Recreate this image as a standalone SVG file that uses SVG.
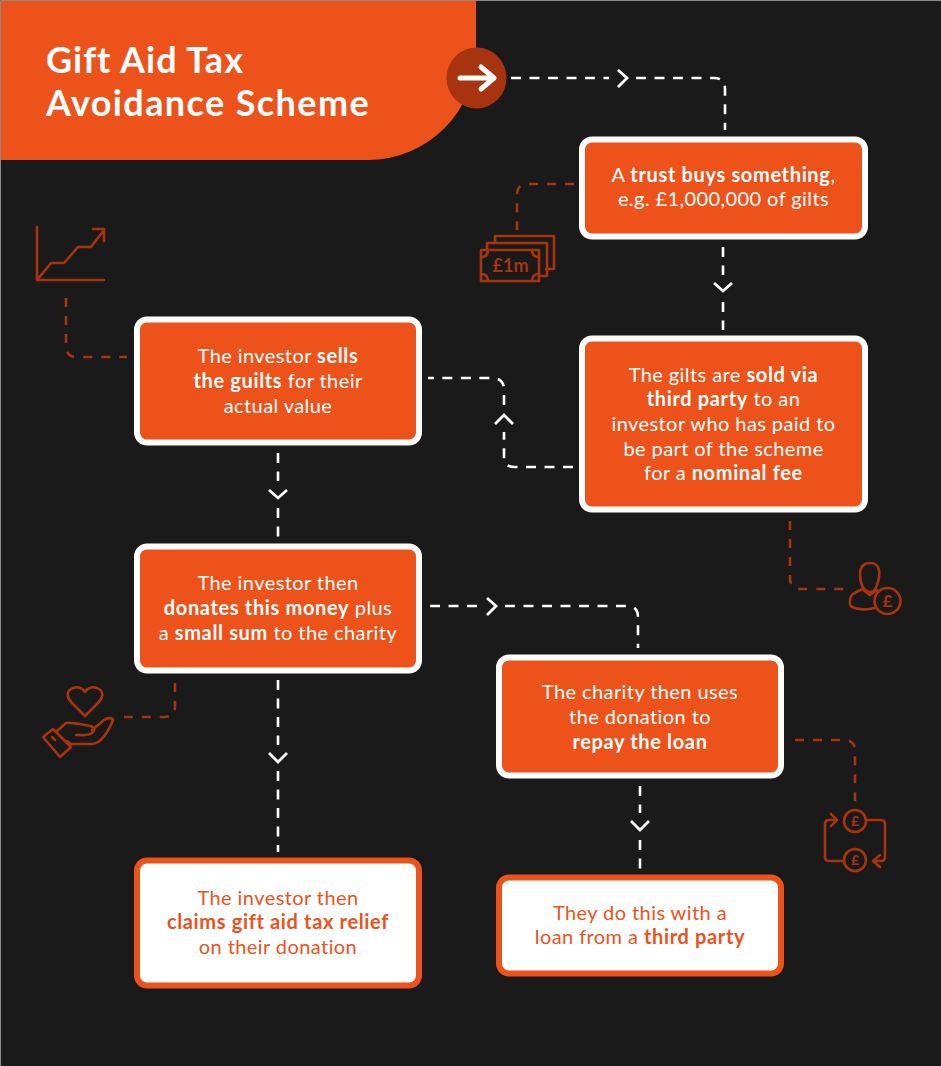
<svg xmlns="http://www.w3.org/2000/svg" width="941" height="1066" viewBox="0 0 941 1066">
<style>
text{font-family:Lato,"Liberation Sans",sans-serif;font-size:20px;text-anchor:middle;fill:#fff;letter-spacing:.42px}
.b{font-weight:700;letter-spacing:.65px}
.t{font-size:36px;font-weight:700;text-anchor:start;letter-spacing:1.4px}
.box{fill:#ed521b;stroke:#fff;stroke-width:6}
.wbox{fill:#fff;stroke:#ed521b;stroke-width:6}
.o{fill:#ed521b}
.w{fill:none;stroke:#fff;stroke-width:2.6;stroke-dasharray:10 8.500}
.r{fill:none;stroke:#a8330f;stroke-width:2.6;stroke-dasharray:9 9}
.c{fill:none;stroke:#fff;stroke-width:2.800}
.i{fill:none;stroke:#a8330f;stroke-width:2.6;stroke-linejoin:round;stroke-linecap:round}
.it{fill:#a8330f;font-weight:700;letter-spacing:0}
</style>
<rect width="941" height="1066" fill="#1a1a1a"/>
<path d="M.5 1066V.5H941" fill="none" stroke="#8a8a8a" stroke-width="1"/>
<g id="header">
<path d="M1 1H476V52A108 108 0 0 1 368 160H1Z" fill="#ed521b"/>
<text class="t" x="46" y="73" style="letter-spacing:1px">Gift Aid Tax</text>
<text class="t" x="46" y="116">Avoidance Scheme</text>
<ellipse cx="476.500" cy="78" rx="30" ry="30.500" fill="#a8330f"/>
<path d="M460 78H494M481 67L494 78L481 89" fill="none" stroke="#fff" stroke-width="5" stroke-linecap="round" stroke-linejoin="round"/>
</g>
<g id="connectors">
<path class="w" d="M511 78H609"/>
<path class="w" d="M636 78H714Q725 78 725 89V130"/>
<path class="c" d="M618 70L627 78L618 87"/>
<path class="w" d="M723 247V275"/>
<path class="w" d="M723 302V330"/>
<path class="c" d="M714 283L723 291L732 283"/>
<path class="w" d="M573 467H514Q504 467 504 457V432"/>
<path class="w" d="M504 405V390Q504 378 492 378H428"/>
<path class="c" d="M495 424L504 415L513 424"/>
<path class="w" d="M278 453V481"/>
<path class="w" d="M278 508V537"/>
<path class="c" d="M269 490L278 498L287 490"/>
<path class="w" d="M430 606H478"/>
<path class="w" d="M505 606H627Q638 606 638 617V648"/>
<path class="c" d="M487 598L496 606L487 615"/>
<path class="w" d="M278 680V745"/>
<path class="w" d="M278 771V852"/>
<path class="c" d="M269 753L278 762L287 753"/>
<path class="w" d="M640 786V813"/>
<path class="w" d="M640 840V869"/>
<path class="c" d="M631 821L640 830L649 821"/>
<path class="r" d="M574 184H528Q517 184 517 195V230"/>
<path class="r" d="M66 298V346Q66 357 77 357H127"/>
<path class="r" d="M790 521V578Q790 589 801 589H845"/>
<path class="r" d="M175 683V706Q175 717 164 717H124"/>
<path class="r" d="M795 740H844Q855 740 855 751V802"/>
</g>
<g id="icon-money">
<path class="i" d="M495 243V236H554V269H546M487 250V243H547V276H539"/>
<rect class="i" x="481" y="250" width="58" height="31"/>
<path class="i" d="M481 257Q488 257 488 250M532 250Q532 257 539 257M481 274Q488 274 488 281M532 281Q532 274 539 274"/>
<text class="it" x="510.500" y="272" style="font-size:18px">£1m</text>
</g>
<g id="icon-chart">
<path class="i" d="M37 227V280H104M37 280L51 263H64L78 247H91L104 230M93 229H104V241"/>
</g>
<g id="icon-person">
<path class="i" d="M870 563C881 563 880 574 878 582C876 590 873 592 870 592C866 592 862 588 861 582C859 574 859 563 870 563ZM862 589L870 595L877 590M862 589L853 594C849 597 849 606 852 607C858 610 868 610 875 608"/>
<circle class="i" cx="887.500" cy="601" r="13"/>
<text class="it" x="887.500" y="607" style="font-size:17px">£</text>
</g>
<g id="icon-hand">
<path class="i" d="M85 716L72 703C67 698 66 692 71 689C76 686 82 687 85 692C88 687 94 686 99 689C104 692 103 698 98 703Z"/>
<path class="i" d="M57 731L66 723C72 722 75 724 80 724L90 726C96 727 95 730 92 733C88 736 81 735 76 735M92 730L104 720C108 717 113 718 113 720C108 733 100 744 92 744H71L67 741"/>
<path class="i" d="M43 737L53 729L71 747L60 757ZM52 737L55 740"/>
</g>
<g id="icon-loop">
<circle class="i" cx="855" cy="821" r="11"/>
<circle class="i" cx="855" cy="860" r="11"/>
<text class="it" x="855" y="826" style="font-size:14px">£</text>
<text class="it" x="855" y="865" style="font-size:14px">£</text>
<path class="i" d="M866 820H881Q885 820 885 824V857Q885 861 881 861H874M880 855L873 861L880 867M844 861H829Q825 861 825 857V824Q825 820 829 820H837M831 814L837 820L831 826"/>
</g>
<g id="node-trust">
<rect class="box" x="582" y="139.500" width="283" height="97" rx="10"/>
<text x="723.500" y="182">A <tspan class="b">trust buys something</tspan>,</text>
<text x="723.500" y="205.500">e.g. £1,000,000 of gilts</text>
</g>
<g id="node-sold">
<rect class="box" x="582" y="338.500" width="283" height="171" rx="10"/>
<text x="723.500" y="381.500">The gilts are <tspan class="b">sold via</tspan></text>
<text x="723.500" y="406"><tspan class="b">third party</tspan> to an</text>
<text x="723.500" y="431">investor who has paid to</text>
<text x="723.500" y="456">be part of the scheme</text>
<text x="723.500" y="480"><tspan>for a </tspan><tspan class="b">nominal fee</tspan></text>
</g>
<g id="node-sells">
<rect class="box" x="137" y="319.500" width="282" height="123" rx="10"/>
<text x="278" y="363">The investor <tspan class="b">sells</tspan></text>
<text x="278" y="388"><tspan class="b">the guilts</tspan> for their</text>
<text x="278" y="413">actual value</text>
</g>
<g id="node-donates">
<rect class="box" x="137" y="546.500" width="282" height="124" rx="10"/>
<text x="278" y="590">The investor then</text>
<text x="278" y="615"><tspan class="b">donates this money</tspan> plus</text>
<text x="278" y="639.500">a <tspan class="b">small sum</tspan> to the charity</text>
</g>
<g id="node-repay">
<rect class="box" x="499" y="657.500" width="282" height="118" rx="10"/>
<text x="640" y="698.500">The charity then uses</text>
<text x="640" y="723.500">the donation to</text>
<text x="640" y="748.500" class="b">repay the loan</text>
</g>
<g id="node-claims">
<rect class="wbox" x="137" y="860.500" width="282" height="125" rx="10"/>
<text class="o" x="278" y="904.500">The investor then</text>
<text class="o b" x="278" y="929">claims gift aid tax relief</text>
<text class="o" x="278" y="954">on their donation</text>
</g>
<g id="node-loan">
<rect class="wbox" x="499" y="877.500" width="282" height="96" rx="10"/>
<text class="o" x="640" y="919.500">They do this with a</text>
<text class="o" x="640" y="944">loan from a <tspan class="b">third party</tspan></text>
</g>
</svg>
